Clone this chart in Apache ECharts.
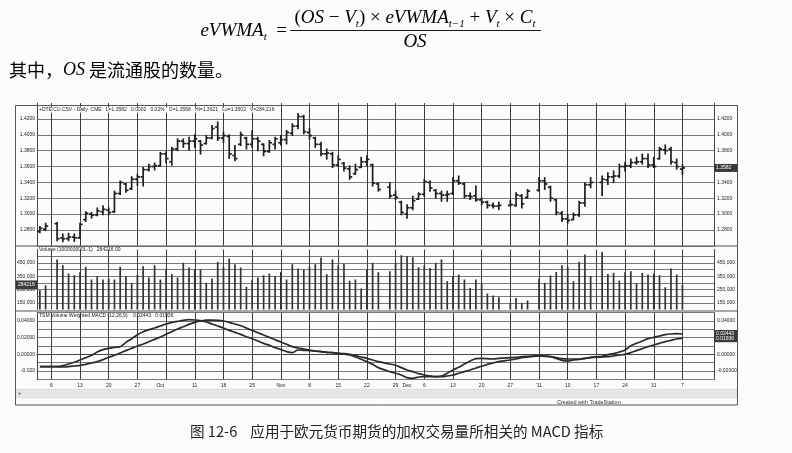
<!DOCTYPE html>
<html>
<head>
<meta charset="utf-8">
<title>eVWMA MACD</title>
<script src="https://cdn.jsdelivr.net/npm/echarts@6/dist/echarts.min.js"></script>
<style>
  html, body { margin: 0; padding: 0; background: #fcfcfc; }
  #main { width: 792px; height: 453px; }
</style>
</head>
<body>
<div id="main"></div>
<script>
// trading days shown on the axis (weekdays from 2 Sep 2010)
var firstDay = [2010, 8, 2];
var dayCount = 118;

// bottom axis labels: category index -> text
var tickIndex = [2, 7, 12, 17, 21, 27, 32, 37, 42, 47, 52, 57, 62, 64, 67, 72, 77, 82, 87, 92, 97, 102, 107, 112];
var tickText = ['6', '13', '20', '27', 'Oct', '11', '18', '25', 'Nov', '8', '15', '22', '29', 'Dec', '6', '13', '20', '27', "'11", '10', '17', '24', '31', '7'];

// euro FX futures, daily bars (null = holiday)
var openP = [1.2780, 1.2810, null, 1.2880, 1.2700, 1.2690, 1.2710, 1.2700, 1.2930, 1.3000,
  1.2990, 1.3030, 1.3050, 1.3030, 1.3260, 1.3380, 1.3320, 1.3440, 1.3470, 1.3560,
  1.3600, 1.3610, 1.3760, 1.3660, 1.3820, 1.3920, 1.3890, 1.3920, 1.3920, 1.3890,
  1.3960, 1.4100, 1.3960, 1.3980, 1.3740, 1.3880, 1.3960, 1.3880, 1.3950, 1.3880,
  1.3790, 1.3880, 1.3900, 1.3940, 1.4020, 1.4110, 1.4230, 1.4030, 1.3960, 1.3880,
  1.3760, 1.3760, 1.3620, 1.3640, 1.3570, 1.3510, 1.3590, 1.3660, 1.3620, 1.3380,
  null, 1.3340, 1.3240, 1.3150, 1.3000, 1.3080, 1.3190, 1.3250, 1.3400, 1.3300,
  1.3260, 1.3240, 1.3260, 1.3420, 1.3380, 1.3230, 1.3230, 1.3180, 1.3150, 1.3110,
  1.3100, null, 1.3110, 1.3110, 1.3230, 1.3210, null, 1.3300, 1.3420, 1.3340,
  1.3180, 1.3010, 1.2940, 1.2930, 1.2990, 1.3140, 1.3370, null, 1.3400, 1.3430,
  1.3470, 1.3480, 1.3600, 1.3610, 1.3650, 1.3660, 1.3700, 1.3620, 1.3700, 1.3810,
  1.3820, 1.3650, 1.3568];
var highP = [1.2843, 1.2885, null, 1.2894, 1.2749, 1.2757, 1.2749, 1.2885, 1.3030, 1.3021,
  1.3077, 1.3106, 1.3077, 1.3289, 1.3417, 1.3387, 1.3472, 1.3502, 1.3587, 1.3630,
  1.3643, 1.3779, 1.3787, 1.3842, 1.3949, 1.3949, 1.3970, 1.4000, 1.3928, 1.3991,
  1.4119, 1.4162, 1.4034, 1.4000, 1.3864, 1.4034, 1.3970, 1.4055, 1.3970, 1.3885,
  1.3928, 1.3970, 1.3991, 1.4055, 1.4140, 1.4268, 1.4247, 1.4077, 1.3970, 1.3906,
  1.3821, 1.3779, 1.3736, 1.3651, 1.3608, 1.3630, 1.3715, 1.3736, 1.3630, 1.3396,
  null, 1.3396, 1.3289, 1.3162, 1.3119, 1.3226, 1.3268, 1.3438, 1.3417, 1.3311,
  1.3289, 1.3289, 1.3460, 1.3481, 1.3396, 1.3268, 1.3353, 1.3204, 1.3162, 1.3140,
  1.3149, null, 1.3174, 1.3268, 1.3247, 1.3311, null, 1.3460, 1.3460, 1.3353,
  1.3183, 1.3034, 1.2991, 1.3013, 1.3162, 1.3396, 1.3460, null, 1.3481, 1.3523,
  1.3545, 1.3630, 1.3651, 1.3694, 1.3715, 1.3757, 1.3757, 1.3715, 1.3842, 1.3872,
  1.3842, 1.3694, 1.3621];
var lowP = [1.2766, 1.2791, null, 1.2664, 1.2651, 1.2664, 1.2655, 1.2694, 1.2906, 1.2949,
  1.2979, 1.2991, 1.2991, 1.3021, 1.3247, 1.3277, 1.3311, 1.3362, 1.3353, 1.3545,
  1.3557, 1.3608, 1.3651, 1.3617, 1.3800, 1.3842, 1.3808, 1.3842, 1.3757, 1.3885,
  1.3949, 1.3928, 1.3906, 1.3702, 1.3672, 1.3864, 1.3821, 1.3842, 1.3800, 1.3736,
  1.3779, 1.3821, 1.3872, 1.3885, 1.3991, 1.4077, 1.4013, 1.3949, 1.3842, 1.3736,
  1.3694, 1.3587, 1.3608, 1.3545, 1.3438, 1.3502, 1.3587, 1.3608, 1.3353, 1.3289,
  null, 1.3204, 1.3183, 1.2991, 1.2949, 1.3055, 1.3183, 1.3226, 1.3289, 1.3204,
  1.3162, 1.3162, 1.3247, 1.3374, 1.3204, 1.3183, 1.3162, 1.3119, 1.3077, 1.3077,
  1.3055, null, 1.3098, 1.3098, 1.3077, 1.3204, null, 1.3289, 1.3311, 1.3162,
  1.2991, 1.2906, 1.2885, 1.2928, 1.2970, 1.3098, 1.3332, null, 1.3234, 1.3374,
  1.3396, 1.3460, 1.3545, 1.3587, 1.3630, 1.3630, 1.3587, 1.3587, 1.3694, 1.3757,
  1.3630, 1.3566, 1.3502];
var closeP = [1.2820, 1.2850, null, 1.2690, 1.2690, 1.2710, 1.2700, 1.2870, 1.3010, 1.2985,
  1.3040, 1.3060, 1.3020, 1.3260, 1.3400, 1.3300, 1.3440, 1.3470, 1.3560, 1.3600,
  1.3610, 1.3760, 1.3700, 1.3820, 1.3920, 1.3890, 1.3920, 1.3950, 1.3870, 1.3960,
  1.4080, 1.3960, 1.3990, 1.3760, 1.3700, 1.4000, 1.3880, 1.3950, 1.3920, 1.3790,
  1.3900, 1.3950, 1.3940, 1.4030, 1.4110, 1.4230, 1.4040, 1.3990, 1.3880, 1.3760,
  1.3770, 1.3620, 1.3690, 1.3580, 1.3470, 1.3560, 1.3660, 1.3690, 1.3390, 1.3310,
  null, 1.3230, 1.3210, 1.3020, 1.3080, 1.3170, 1.3250, 1.3410, 1.3330, 1.3260,
  1.3240, 1.3250, 1.3420, 1.3390, 1.3230, 1.3220, 1.3180, 1.3150, 1.3110, 1.3100,
  1.3110, null, 1.3120, 1.3240, 1.3130, 1.3290, null, 1.3420, 1.3380, 1.3200,
  1.3020, 1.2940, 1.2920, 1.2990, 1.3140, 1.3370, 1.3400, null, 1.3440, 1.3470,
  1.3480, 1.3600, 1.3610, 1.3650, 1.3660, 1.3700, 1.3620, 1.3600, 1.3820, 1.3800,
  1.3660, 1.3600, 1.3582];

var volume = [245000, 282000, null, 475000, 432000, 370000, 357000, 380000, 420000, 325000,
  350000, 325000, 330000, 325000, 420000, 350000, 300000, 360000, 425000, 340000,
  432000, 325000, 400000, 365000, 340000, 450000, 415000, 400000, 400000, 300000,
  332000, 457000, 420000, 482000, 440000, 415000, 270000, 320000, 340000, 357000,
  370000, 350000, 380000, 325000, 440000, 407000, 400000, 420000, 440000, 490000,
  365000, 475000, 430000, 445000, 315000, 325000, 257000, 400000, 450000, 380000,
  null, 387000, 450000, 507000, 500000, 492000, 417000, 430000, 412000, 450000,
  475000, 312000, 350000, 362000, 325000, 262000, 325000, 300000, 220000, 205000,
  192000, null, 150000, 187000, 150000, 167000, null, 330000, 300000, 355000,
  382000, 432000, 420000, 312000, 457000, 512000, 350000, null, 532000, 367000,
  375000, 317000, 380000, 387000, 295000, 375000, 362000, 370000, 357000, 267000,
  407000, 362000, 284216];

// volume weighted MACD (12,26,9) and its signal line
var macdLine = [-0.0148, -0.0148, null, -0.0148, -0.0136, -0.0116, -0.0096, -0.0068, -0.0040, -0.0012,
  0.0028, 0.0056, 0.0072, 0.0084, 0.0092, 0.0144, 0.0188, 0.0236, 0.0272, 0.0296,
  0.0316, 0.0340, 0.0364, 0.0384, 0.0396, 0.0408, 0.0416, 0.0412, 0.0404, 0.0388,
  0.0364, 0.0340, 0.0316, 0.0288, 0.0264, 0.0240, 0.0212, 0.0188, 0.0160, 0.0132,
  0.0108, 0.0080, 0.0056, 0.0032, 0.0020, 0.0052, 0.0048, 0.0044, 0.0040, 0.0032,
  0.0024, 0.0020, 0.0012, 0.0004, -0.0008, -0.0032, -0.0060, -0.0088, -0.0120, -0.0160,
  null, -0.0208, -0.0228, -0.0248, -0.0280, -0.0288, -0.0272, -0.0268, -0.0268, -0.0268,
  -0.0260, -0.0228, -0.0188, -0.0156, -0.0116, -0.0080, -0.0052, -0.0048, -0.0052, -0.0056,
  -0.0048, null, -0.0040, -0.0036, -0.0028, -0.0024, null, -0.0016, -0.0020, -0.0028,
  -0.0048, -0.0072, -0.0080, -0.0068, -0.0060, -0.0048, -0.0036, null, -0.0024, -0.0004,
  0.0008, 0.0028, 0.0052, 0.0104, 0.0132, 0.0160, 0.0188, 0.0204, 0.0220, 0.0236,
  0.0244, 0.0248, 0.02443];
var signalLine = [-0.0148, -0.0148, null, -0.0148, -0.0152, -0.0148, -0.0140, -0.0132, -0.0120, -0.0104,
  -0.0088, -0.0064, -0.0036, -0.0012, 0.0016, 0.0044, 0.0072, 0.0100, 0.0124, 0.0152,
  0.0180, 0.0208, 0.0240, 0.0272, 0.0304, 0.0332, 0.0360, 0.0384, 0.0400, 0.0412,
  0.0412, 0.0408, 0.0400, 0.0384, 0.0364, 0.0344, 0.0316, 0.0288, 0.0260, 0.0232,
  0.0204, 0.0176, 0.0148, 0.0120, 0.0092, 0.0076, 0.0064, 0.0052, 0.0040, 0.0032,
  0.0024, 0.0020, 0.0012, 0.0008, 0.0000, -0.0016, -0.0032, -0.0048, -0.0068, -0.0088,
  null, -0.0116, -0.0132, -0.0160, -0.0188, -0.0208, -0.0232, -0.0248, -0.0260, -0.0268,
  -0.0268, -0.0260, -0.0248, -0.0228, -0.0208, -0.0188, -0.0164, -0.0144, -0.0120, -0.0104,
  -0.0088, null, -0.0068, -0.0056, -0.0040, -0.0032, null, -0.0020, -0.0024, -0.0028,
  -0.0040, -0.0052, -0.0056, -0.0056, -0.0056, -0.0048, -0.0040, null, -0.0032, -0.0028,
  -0.0020, -0.0008, 0.0000, 0.0020, 0.0044, 0.0068, 0.0092, 0.0112, 0.0132, 0.0152,
  0.0168, 0.0184, 0.01936];

// build category list of weekdays
var days = [];
var d = new Date(Date.UTC(firstDay[0], firstDay[1], firstDay[2]));
while (days.length < dayCount) {
  var wd = d.getUTCDay();
  if (wd !== 0 && wd !== 6) days.push(d.toISOString().slice(0, 10));
  d.setUTCDate(d.getUTCDate() + 1);
}
var lastBar = closeP.length - 1;
function isWeekStart(i) {
  return new Date(days[i] + 'T00:00:00Z').getUTCDay() === 1 && i <= lastBar;
}

var ohlc = [];
for (var i = 0; i < closeP.length; i++) {
  if (closeP[i] != null) ohlc.push([i, openP[i], highP[i], lowP[i], closeP[i]]);
}

var ink = '#1e1e1e';
var gridInk = '#6a6a6a';
var small = { fontSize: 5, color: '#222', fontFamily: 'Liberation Sans' };

function renderBar(params, api) {
  var x = api.value(0);
  var o = api.coord([x, api.value(1)]);
  var h = api.coord([x, api.value(2)]);
  var l = api.coord([x, api.value(3)]);
  var c = api.coord([x, api.value(4)]);
  var w = api.size([1, 0])[0] * 0.45;
  var st = { stroke: ink, lineWidth: 1.7 };
  return {
    type: 'group',
    children: [
      { type: 'line', shape: { x1: h[0], y1: h[1] - 0.5, x2: l[0], y2: l[1] + 0.5 }, style: st },
      { type: 'line', shape: { x1: o[0] - w, y1: o[1], x2: o[0], y2: o[1] }, style: st },
      { type: 'line', shape: { x1: c[0], y1: c[1], x2: c[0] + w, y2: c[1] }, style: st }
    ]
  };
}

function xAxisFor(gridIndex, withLabels) {
  return {
    type: 'category',
    gridIndex: gridIndex,
    data: days,
    boundaryGap: true,
    axisLine: { show: withLabels, lineStyle: { color: '#444', width: 1 } },
    axisTick: {
      show: withLabels, length: 3, alignWithLabel: true,
      interval: function (i) { return isWeekStart(i); },
      lineStyle: { color: '#444' }
    },
    axisLabel: {
      show: withLabels, margin: 4,
      interval: function (i) { return tickIndex.indexOf(i) >= 0; },
      formatter: function (v, i) {
        var k = tickIndex.indexOf(i);
        return k >= 0 ? tickText[k] : '';
      },
      fontSize: 5, color: '#222', fontFamily: 'Liberation Sans'
    },
    splitLine: {
      show: true, alignWithLabel: true,
      interval: function (i) { return isWeekStart(i); },
      lineStyle: { color: '#3c3c3c', width: 1 }
    }
  };
}

function yAxisFor(gridIndex, side, cfg) {
  return {
    type: 'value',
    gridIndex: gridIndex,
    position: side,
    min: cfg.min, max: cfg.max, interval: cfg.interval,
    axisLine: { show: true, lineStyle: { color: '#444', width: 1 } },
    axisTick: { show: false },
    axisLabel: Object.assign({ margin: side === 'left' ? 2 : 3, formatter: cfg.fmt[side] }, small),
    splitLine: { show: side === 'left', lineStyle: { color: cfg.lines, width: 0.9 } }
  };
}

function hideEnds(n, hideFirst, hideLast) {
  var arr = [];
  for (var k = 0; k < n; k++) arr.push(gridInk);
  if (hideFirst) arr[0] = 'rgba(0,0,0,0)';
  if (hideLast) arr[n - 1] = 'rgba(0,0,0,0)';
  return arr;
}

var priceCfg = {
  min: 1.26, max: 1.44, interval: 0.02, lines: hideEnds(10, false, true),
  fmt: {
    left: function (v) { return (v < 1.27 || v > 1.43) ? '' : v.toFixed(4); },
    right: function (v) { return (v < 1.27 || v > 1.43) ? '' : v.toFixed(4); }
  }
};
function volFmt(v) {
  var k = Math.round(v / 1000);
  return (k === 150 || k === 250 || k === 350 || k === 450) ? k + ',000' : '';
}
var volCfg = {
  min: 100000, max: 550000, interval: 50000, lines: hideEnds(10, true, true),
  fmt: { left: volFmt, right: volFmt }
};
var macdCfg = {
  min: -0.03, max: 0.05, interval: 0.01, lines: hideEnds(9, false, false),
  fmt: {
    left: function (v) {
      var k = Math.round(v * 100);
      if (k === -2) return '-0.020';
      return (k === 0 || k === 2 || k === 4) ? (k / 100).toFixed(5) : '';
    },
    right: function (v) {
      var k = Math.round(v * 100);
      return (k === -2 || k === 0 || k === 2 || k === 4) ? (k / 100).toFixed(5) : '';
    }
  }
};

var serif = 'Liberation Serif';
var fRich = {
  i: { fontFamily: serif, fontStyle: 'italic', fontSize: 19, color: '#1a1a1a', lineHeight: 24 },
  n: { fontFamily: serif, fontSize: 19, color: '#1a1a1a', lineHeight: 24 },
  s: { fontFamily: serif, fontStyle: 'italic', fontSize: 11, color: '#1a1a1a', lineHeight: 24, verticalAlign: 'bottom' }
};

var chart = echarts.init(document.getElementById('main'), null, { renderer: 'canvas' });

var option = {
  backgroundColor: '#fcfcfc',
  animation: false,
  grid: [
    { left: 37, right: 78, top: 103.1, height: 142.7 },
    { left: 37, right: 78, top: 249.5, height: 60 },
    { left: 37, right: 78, top: 312.7, height: 66.6 }
  ],
  xAxis: [xAxisFor(0, false), xAxisFor(1, false), xAxisFor(2, true)],
  yAxis: [
    yAxisFor(0, 'left', priceCfg), yAxisFor(0, 'right', priceCfg),
    yAxisFor(1, 'left', volCfg), yAxisFor(1, 'right', volCfg),
    yAxisFor(2, 'left', macdCfg), yAxisFor(2, 'right', macdCfg)
  ],
  series: [
    {
      name: 'Price', type: 'custom', xAxisIndex: 0, yAxisIndex: 0,
      renderItem: renderBar, data: ohlc, encode: { x: 0, y: [1, 2, 3, 4] }, z: 5
    },
    {
      name: 'Volume', type: 'bar', xAxisIndex: 1, yAxisIndex: 2,
      data: volume, barWidth: 1.7, itemStyle: { color: '#333' }, z: 5
    },
    {
      name: 'MACD', type: 'line', xAxisIndex: 2, yAxisIndex: 4, data: macdLine,
      symbol: 'none', connectNulls: true, smooth: 0.3,
      lineStyle: { color: '#2a2a2a', width: 1.7 }, z: 5
    },
    {
      name: 'Signal', type: 'line', xAxisIndex: 2, yAxisIndex: 4, data: signalLine,
      symbol: 'none', connectNulls: true, smooth: 0.3,
      lineStyle: { color: '#2a2a2a', width: 1.7 }, z: 5
    }
  ],
  graphic: [
    // formula
    { id: 'f-left', type: 'text', x: 287, y: 31,
      style: { text: '{i|eVWMA}{s|t}{n|  =}', rich: fRich, align: 'right', verticalAlign: 'middle' } },
    { id: 'f-num', type: 'text', x: 415, y: 18,
      style: { text: '{n|(}{i|OS}{n| − }{i|V}{s|t}{n|) × }{i|eVWMA}{s|t−1}{n| + }{i|V}{s|t}{n| × }{i|C}{s|t}',
        rich: fRich, align: 'center', verticalAlign: 'middle' } },
    { id: 'f-bar', type: 'line', shape: { x1: 290, y1: 30.5, x2: 541, y2: 30.5 },
      style: { stroke: '#1a1a1a', lineWidth: 1 } },
    { id: 'f-den', type: 'text', x: 415, y: 42,
      style: { text: '{i|OS}', rich: fRich, align: 'center', verticalAlign: 'middle' } },
    { id: 'note', type: 'text', x: 9, y: 70,
      style: { text: '{c|其中，}{o|OS}{c| 是流通股的数量。}', verticalAlign: 'middle',
        rich: {
          c: { fontFamily: 'Noto Sans CJK SC', fontSize: 18, color: '#1a1a1a' },
          o: { fontFamily: serif, fontStyle: 'italic', fontSize: 18, color: '#1a1a1a' }
        } } },
    // chart frame and panel separators
    { id: 'frame', type: 'rect', shape: { x: 15.5, y: 105.5, width: 722, height: 299.5 },
      style: { fill: null, stroke: '#555', lineWidth: 1 }, z: 10 },
    { id: 'sep1', type: 'line', shape: { x1: 15, y1: 246, x2: 738, y2: 246 },
      style: { stroke: '#555', lineWidth: 1 }, z: 10 },
    { id: 'sep2', type: 'line', shape: { x1: 15, y1: 311, x2: 738, y2: 311 },
      style: { stroke: '#555', lineWidth: 1 }, z: 10 },
    { id: 'scroll', type: 'rect', shape: { x: 16, y: 389, width: 721, height: 9 },
      style: { fill: '#e6e6e6', stroke: '#d0d0d0', lineWidth: 0.5 } },
    { id: 'scroll-l', type: 'text', left: 18, top: 390,
      style: { text: '+', fontSize: 6, fill: '#444', fontFamily: 'Liberation Sans' } },
    { id: 'credit', type: 'text', left: 557, top: 399,
      style: { text: 'Created with TradeStation', fontSize: 5.5, fill: '#333', fontFamily: 'Liberation Sans', textDecoration: 'underline' } },
    // panel headers
    { id: 'h-price', type: 'text', left: 39, top: 107.5, z: 12,
      style: { text: '+DTE:CU.CSV - Daily  CME   L=1.3582   0.0002   0.02%   O=1.3568   Hi=1.3621   Lo=1.3502   V=284,216',
        fontSize: 5, fill: '#222', fontFamily: 'Liberation Sans', backgroundColor: '#fff' } },
    { id: 'h-vol', type: 'text', left: 39, top: 247.5, z: 12,
      style: { text: 'Volume (100000000L-1)   284216.00', fontSize: 5, fill: '#222', fontFamily: 'Liberation Sans' } },
    { id: 'h-macd', type: 'text', left: 39, top: 313, z: 12,
      style: { text: 'TSM Volume Weighted MACD (12,26,9)    0.02443   0.01936', fontSize: 5, fill: '#222', fontFamily: 'Liberation Sans' } },
    // caption
    { id: 'caption', type: 'text', left: 190, top: 424,
      style: { text: '图 12-6    应用于欧元货币期货的加权交易量所相关的 MACD 指标',
        fontFamily: 'Noto Sans CJK SC', fontSize: 14.6, fill: '#222' } }
  ]
};

chart.setOption(option);

// value markers on the axes, placed through the axes' own scales
var yClose = chart.convertToPixel({ yAxisIndex: 1 }, closeP[lastBar]);
var yVol = chart.convertToPixel({ yAxisIndex: 2 }, volume[lastBar]);
var yMacd = chart.convertToPixel({ yAxisIndex: 5 }, macdLine[lastBar]);
var ySig = chart.convertToPixel({ yAxisIndex: 5 }, signalLine[lastBar]);
var boxFill = '#3a3a3a';
var boxText = { fontSize: 5, fill: '#fff', fontFamily: 'Liberation Sans' };

chart.setOption({
  graphic: [
    { id: 'm-price', type: 'rect', z: 11, shape: { x: 714, y: yClose - 4, width: 23.5, height: 8 }, style: { fill: boxFill } },
    { id: 'm-price-t', type: 'text', z: 12, left: 716, top: yClose - 3, style: Object.assign({ text: closeP[lastBar].toFixed(4) }, boxText) },
    { id: 'm-vol', type: 'rect', z: 11, shape: { x: 16, y: yVol - 4.5, width: 21, height: 9 }, style: { fill: boxFill } },
    { id: 'm-vol-t', type: 'text', z: 12, left: 18, top: yVol - 3, style: Object.assign({ text: String(volume[lastBar]) }, boxText) },
    { id: 'm-macd', type: 'rect', z: 11, shape: { x: 714, y: yMacd - 4, width: 23.5, height: ySig - yMacd + 8 }, style: { fill: boxFill } },
    { id: 'm-macd-t1', type: 'text', z: 12, left: 716, top: yMacd - 3, style: Object.assign({ text: macdLine[lastBar].toFixed(5) }, boxText) },
    { id: 'm-macd-t2', type: 'text', z: 12, left: 716, top: ySig - 2, style: Object.assign({ text: signalLine[lastBar].toFixed(5) }, boxText) }
  ]
});
</script>
</body>
</html>
